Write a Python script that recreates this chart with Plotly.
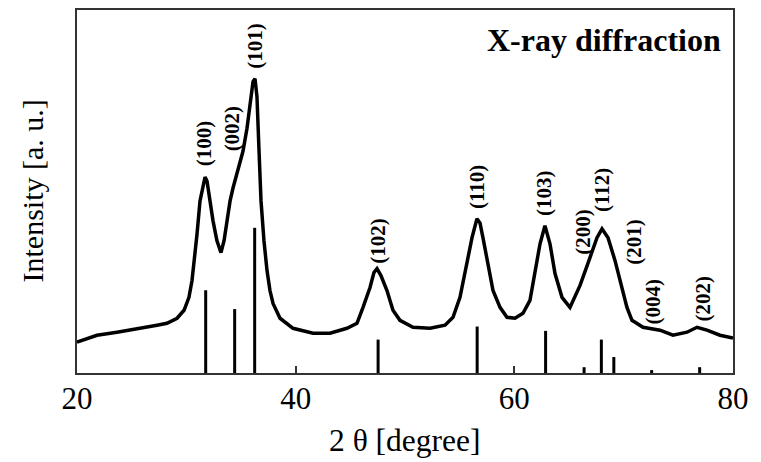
import plotly.graph_objects as go

# Measured XRD pattern (2θ in degrees, intensity in a.u.)
two_theta = [20.00, 21.83, 23.66, 25.49, 27.32, 28.23, 29.15, 29.79, 30.24, 30.52,
             30.79, 30.98, 31.25, 31.52, 31.71, 31.89, 32.16, 32.44, 32.80, 33.17,
             33.45, 33.72, 34.00, 34.27, 34.63, 34.91, 35.18, 35.55, 35.82, 36.10,
             36.28, 36.46, 36.65, 36.83, 37.10, 37.38, 37.65, 37.93, 38.57, 39.76,
             41.59, 43.14, 44.69, 45.61, 46.16, 46.80, 47.16, 47.44, 47.80, 48.35,
             48.90, 49.54, 50.73, 52.29, 53.66, 54.39, 55.03, 55.67, 56.13, 56.58,
             56.86, 57.13, 57.59, 58.05, 58.69, 59.33, 60.06, 60.79, 61.43, 61.89,
             62.35, 62.80, 63.26, 63.72, 64.36, 65.09, 66.01, 66.92, 67.56, 68.02,
             68.57, 69.21, 69.85, 70.30, 70.76, 71.77, 73.32, 74.51, 75.79, 76.71,
             77.62, 78.81, 80.00]
intensity = [21.2, 26.0, 28.1, 30.8, 32.9, 34.2, 37.7, 43.2, 52.1, 63.7,
             80.8, 95.9, 118.5, 129.5, 134.9, 132.2, 118.5, 104.8, 91.1, 82.9,
             91.1, 106.8, 118.5, 127.4, 137.0, 143.8, 152.7, 168.5, 187.0, 200.7,
             202.7, 190.4, 152.7, 118.5, 91.1, 70.5, 56.8, 47.9, 37.7, 30.8,
             27.4, 27.4, 30.8, 34.2, 45.2, 58.9, 69.2, 71.9, 67.1, 56.8,
             43.2, 36.3, 31.5, 30.8, 32.9, 38.4, 52.1, 75.3, 93.2, 106.2,
             103.4, 93.2, 75.3, 56.8, 45.2, 38.4, 37.7, 41.1, 50.0, 68.5,
             89.0, 101.4, 89.0, 68.5, 52.1, 45.2, 60.3, 79.5, 93.2, 99.3,
             93.2, 77.4, 58.9, 45.2, 36.3, 31.5, 29.5, 26.0, 28.1, 31.5,
             29.5, 26.0, 24.0]

# Reference (JCPDS) stick pattern
ref_pos = [31.77, 34.42, 36.25, 47.54, 56.60, 62.86, 66.38, 67.96, 69.10, 72.56, 76.95]
ref_int = [57, 44, 100, 23, 32, 29, 4, 23, 11, 2, 4]

# Peak labels (Miller indices) and their label anchor points
hkl_labels = ["(100)", "(002)", "(101)", "(102)", "(110)", "(103)",
              "(200)", "(112)", "(201)", "(004)", "(202)"]
label_x = [31.62, 34.18, 36.28, 47.53, 56.59, 62.71, 66.28, 68.02, 70.94, 72.68, 77.26]
label_y = [158.2, 168.5, 225.3, 91.1, 128.1, 124.0, 97.3, 126.0, 90.4, 49.3, 51.4]

x_ticks = [20, 40, 60, 80]

SERIF = "Liberation Serif, Times New Roman, serif"

fig = go.Figure()

stick_x, stick_y = [], []
for p, h in zip(ref_pos, ref_int):
    stick_x += [p, p, None]
    stick_y += [0, h, None]
fig.add_trace(go.Scatter(x=stick_x, y=stick_y, mode="lines",
                         line=dict(color="black", width=3), hoverinfo="skip",
                         showlegend=False))

fig.add_trace(go.Scatter(x=two_theta, y=intensity, mode="lines",
                         line=dict(color="black", width=3.5), showlegend=False))

for t, lx, ly in zip(hkl_labels, label_x, label_y):
    fig.add_annotation(x=lx, y=ly, xref="x", yref="y", text="<b>" + t + "</b>",
                       textangle=-90, showarrow=False,
                       font=dict(family=SERIF, size=21, color="black"),
                       xanchor="center", yanchor="middle")

fig.add_annotation(x=1, y=1, xref="paper", yref="paper",
                   text="<b>X-ray diffraction</b>", showarrow=False,
                   xanchor="right", yanchor="middle", xshift=-10, yshift=-30,
                   font=dict(family=SERIF, size=32, color="black"))

fig.add_annotation(x=0.5, y=0, xref="paper", yref="paper", text="2 θ [degree]",
                   showarrow=False, xanchor="center", yanchor="middle", yshift=-67,
                   font=dict(family=SERIF, size=31.5, color="black"))

fig.add_annotation(x=0, y=0.5, xref="paper", yref="paper", text="Intensity [a. u.]",
                   showarrow=False, textangle=-90, xanchor="center", yanchor="middle",
                   xshift=-45, font=dict(family=SERIF, size=30, color="black"))

fig.update_xaxes(range=[20, 80], tickmode="array", tickvals=x_ticks,
                 ticktext=[str(v) for v in x_ticks], ticks="inside", ticklen=7,
                 tickwidth=2, tickcolor="#333", showline=True, linecolor="#333",
                 linewidth=2, mirror=True, showgrid=False, zeroline=False,
                 tickfont=dict(family=SERIF, size=31, color="black"),
                 ticklabelstandoff=-3)
fig.update_yaxes(range=[0, 250.0], showticklabels=False, ticks="", showline=True,
                 linecolor="#333", linewidth=2, mirror=True, showgrid=False,
                 zeroline=False)

# page body adds an 8px offset; margins compensate for it
fig.update_layout(width=761, height=462, margin=dict(l=69, r=36, t=0, b=97),
                  plot_bgcolor="white", paper_bgcolor="white")

fig.write_html("out.html")
